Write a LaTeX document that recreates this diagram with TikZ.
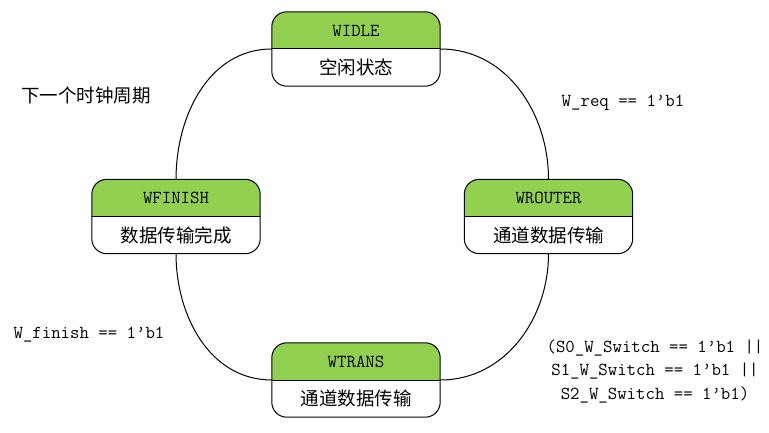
\documentclass[tikz,border=0pt]{standalone}
\usepackage{fontspec}
\newfontfamily\cjk{Noto Sans CJK SC}
\usetikzlibrary{calc}
\definecolor{stategreen}{RGB}{146,208,80}

\begin{document}
\begin{tikzpicture}[x=1pt,y=1pt,
    statebox/.style={minimum width=168pt,minimum height=74pt,inner sep=0pt},
    titletext/.style={font=\ttfamily\fontsize{18.3}{18.3}\selectfont},
    cjktext/.style={font=\cjk\fontsize{18.5}{18.5}\selectfont},
    condtext/.style={font=\ttfamily\fontsize{18.3}{23.5}\selectfont,align=center},
    arc/.style={line width=1pt}]
            \useasboundingbox (0,0) rectangle (769,432);
            \foreach \n/\x/\y/\t/\s in {widle/356/383/WIDLE/空闲状态,wfinish/176/215.5/WFINISH/数据传输完成,wrouter/548.5/215.5/WROUTER/通道数据传输,wtrans/356/52/WTRANS/通道数据传输} {
            \node[statebox] (\n) at (\x,\y) {};
            \begin{scope}
            \clip[rounded corners=15pt] (\n.south west) rectangle (\n.north east);
            \fill[stategreen] (\n.north west) rectangle (\n.east);
            \end{scope}
            \draw[arc,rounded corners=15pt] (\n.south west) rectangle (\n.north east);
            \draw[arc] (\n.west) -- (\n.east);
            \node[titletext] (\n-t) at ($(\n.center)+(0,18.5)$) {\t};
            \node[cjktext] (\n-s) at ($(\n.center)+(0,-18.5)$) {\s};}
            
            \draw [arc] (widle.west) to[out=180,in=90] (wfinish.north);
            \draw [arc] (widle.east) to[out=0,in=90] (wrouter.north);
            \draw [arc] (wfinish.south) to[out=-90,in=180] (wtrans.west);
            \draw [arc] (wrouter.south) to[out=-90,in=0] (wtrans.east);
            
            \node[cjktext] (tick) at (86,336) {下一个时钟周期};
            \node[titletext] (req) at (623,329) {W\_req == 1’b1};
            \node[titletext] (fin) at (89,97) {W\_finish == 1’b1};
            \node[condtext] (sw) at (655,61) {(S0\_W\_Switch == 1’b1 ||\\S1\_W\_Switch == 1’b1 ||\\S2\_W\_Switch == 1’b1)};
        \end{tikzpicture}
\end{document}
